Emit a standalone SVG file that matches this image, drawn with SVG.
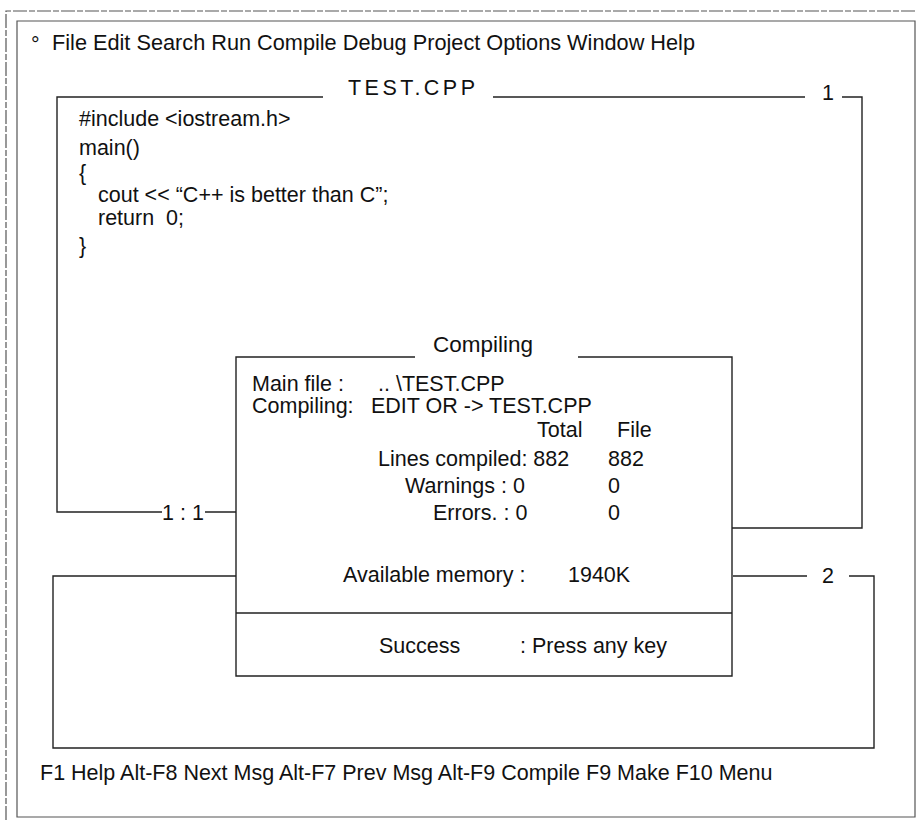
<svg xmlns="http://www.w3.org/2000/svg" width="917" height="820" viewBox="0 0 917 820">
<style>
text{font-family:"Liberation Sans",Arial,sans-serif;font-size:21.5px;fill:#111}
.ln{fill:none;stroke:#222;stroke-width:1.4}
.fr{fill:none;stroke:#555;stroke-width:1.2}
</style>
<rect width="917" height="820" fill="#fff"/>
<g id="frame">
<path class="fr" d="M6,820 V11 H917" stroke-dasharray="14 2 6 2"/>
<path class="fr" d="M17,817 V21 H915 V817 Z"/>
</g>
<g id="menu-bar">
<text x="31" y="52" font-size="18">°</text>
<text x="52" y="50" textLength="643" lengthAdjust="spacingAndGlyphs">File Edit Search Run Compile Debug Project Options Window Help</text>
</g>
<g id="window-edit">
<path class="ln" d="M323,97 H57 V512 H162 M205,512 H236 M493,97 H805 M842,97 H862 V528 H732"/>
<text x="348" y="95" textLength="127" lengthAdjust="spacing">TEST.CPP</text>
<text x="828" y="100" text-anchor="middle">1</text>
<text x="183" y="520" text-anchor="middle">1 : 1</text>
<text x="79" y="126">#include &lt;iostream.h&gt;</text>
<text x="79" y="155">main()</text>
<text x="79" y="180">{</text>
<text x="98" y="202">cout &lt;&lt; “C++ is better than C”;</text>
<text x="98" y="225" xml:space="preserve">return  0;</text>
<text x="79" y="253">}</text>
</g>
<g id="window-message">
<path class="ln" d="M236,576 H53 V748 H874 V576 H849 M733,576 H807"/>
<text x="828" y="583" text-anchor="middle">2</text>
</g>
<g id="dialog-compiling">
<path class="ln" d="M415,357 H236 V676 H732 V357 H578 M236,613 H732"/>
<text x="433" y="352" textLength="100" lengthAdjust="spacingAndGlyphs">Compiling</text>
<text x="252" y="391">Main file :</text>
<text x="378" y="391">.. \TEST.CPP</text>
<text x="252" y="413">Compiling:</text>
<text x="371" y="413">EDIT OR -&gt; TEST.CPP</text>
<text x="537" y="437">Total</text>
<text x="617" y="437">File</text>
<text x="378" y="466">Lines compiled: 882</text>
<text x="608" y="466">882</text>
<text x="405" y="493">Warnings : 0</text>
<text x="608" y="493">0</text>
<text x="433" y="520">Errors. : 0</text>
<text x="608" y="520">0</text>
<text x="343" y="582">Available memory :</text>
<text x="568" y="582">1940K</text>
<text x="379" y="653">Success</text>
<text x="520" y="653">: Press any key</text>
</g>
<g id="status-bar">
<text x="40" y="780">F1 Help Alt-F8 Next Msg Alt-F7 Prev Msg Alt-F9 Compile F9 Make F10 Menu</text>
</g>
<g id="connectors"/>
</svg>
